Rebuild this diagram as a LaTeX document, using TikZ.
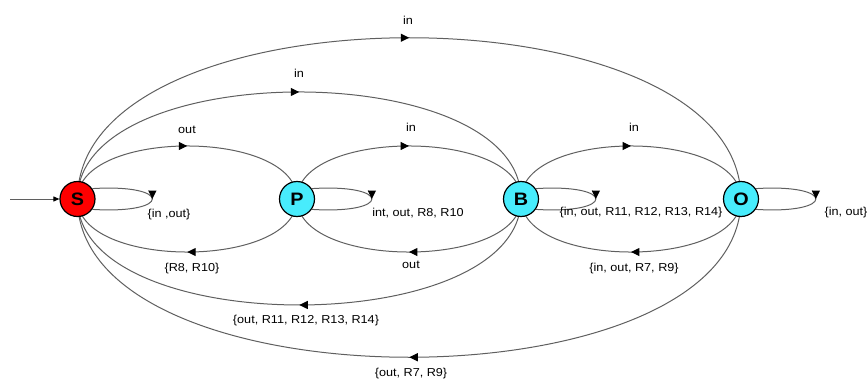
\documentclass[tikz,border=0pt]{standalone}
\usepackage{fontspec}
\setmainfont{Liberation Sans}[FakeStretch=1.1]
\usetikzlibrary{arrows.meta,decorations.markings,backgrounds}
\definecolor{sred}{RGB}{255,0,0}
\definecolor{scyan}{RGB}{72,236,252}
\definecolor{edgegray}{RGB}{95,95,95}
\begin{document}
\begin{tikzpicture}[x=1pt,y=1pt,
  state/.style={circle,draw=black,line width=1.2pt,minimum size=35pt,inner sep=0pt,
    font=\fontsize{18}{18}\selectfont\bfseries},
  edge/.style={draw=edgegray,line width=1pt,postaction={decorate},
    decoration={markings,mark=at position 0.5 with {\arrow[black]{Triangle[length=8.5pt,width=8pt]}}}},
  lab/.style={font=\fontsize{11.5}{13}\selectfont,inner sep=0pt}]
\useasboundingbox (0,0) rectangle (867,381);
\node[state,fill=sred] (S) at (77.5,182) {S};
\node[state,fill=scyan] (P) at (297,182) {P};
\node[state,fill=scyan] (B) at (521,182) {B};
\node[state,fill=scyan] (O) at (741,182) {O};
\coordinate (init) at (10,182);
\begin{scope}[on background layer]
% upper arcs
\draw[edge] (S.center) .. controls +(0,70.7) and +(0,70.7) .. (P.center);
\draw[edge] (P.center) .. controls +(0,70.7) and +(0,70.7) .. (B.center);
\draw[edge] (B.center) .. controls +(0,70.7) and +(0,70.7) .. (O.center);
\draw[edge] (S.center) .. controls +(0,142.7) and +(0,142.7) .. (B.center);
\draw[edge] (S.center) .. controls +(0,215) and +(0,215) .. (O.center);
% lower arcs
\draw[edge] (P.center) .. controls +(0,-70.7) and +(0,-70.7) .. (S.center);
\draw[edge] (B.center) .. controls +(0,-70.7) and +(0,-70.7) .. (P.center);
\draw[edge] (O.center) .. controls +(0,-70.7) and +(0,-70.7) .. (B.center);
\draw[edge] (B.center) .. controls +(0,-141.3) and +(0,-141.3) .. (S.center);
\draw[edge] (O.center) .. controls +(0,-211) and +(0,-211) .. (S.center);
% self loops
\draw[edge] (S.35) .. controls +(80,5) and +(80,-5) .. (S.-35);
\draw[edge] (P.35) .. controls +(80,5) and +(80,-5) .. (P.-35);
\draw[edge] (B.35) .. controls +(80,5) and +(80,-5) .. (B.-35);
\draw[edge] (O.35) .. controls +(80,5) and +(80,-5) .. (O.-35);
\end{scope}
\draw[draw=edgegray,line width=0.9pt,-{Triangle[length=6pt,width=5pt,color=black]}] (init) -- (S);
% labels
\node[lab] (l1) at (408,361) {in};
\node[lab] (l2) at (299,308) {in};
\node[lab] (l3) at (187,251) {out};
\node[lab] (l4) at (411,254) {in};
\node[lab] (l5) at (634,254) {in};
\node[lab] (l6) at (192,112) {\{R8, R10\}};
\node[lab] (l7) at (411,116) {out};
\node[lab] (l8) at (634,112) {\{in, out, R7, R9\}};
\node[lab] (l9) at (306,60) {\{out, R11, R12, R13, R14\}};
\node[lab] (l10) at (411,7) {\{out, R7, R9\}};
\node[lab] (l11) at (169,166) {\{in ,out\}};
\node[lab] (l12) at (418,168) {int, out, R8, R10};
\node[lab] (l13) at (641,168) {\{in, out, R11, R12, R13, R14\}};
\node[lab] (l14) at (846,168) {\{in, out\}};
\end{tikzpicture}
\end{document}
